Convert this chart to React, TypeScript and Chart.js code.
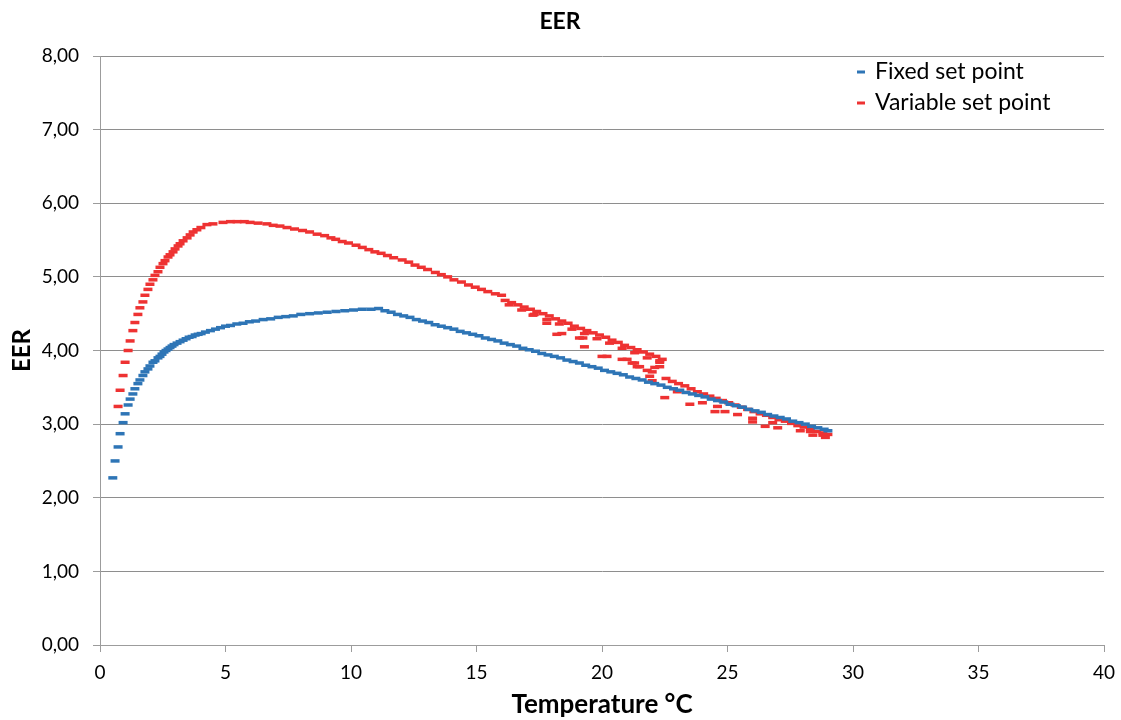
import React, { useEffect, useRef } from "react";
import { Chart, registerables } from "chart.js";
Chart.register(...registerables);

const chartTitle = "EER";
const xAxisTitle = "Temperature °C";
const yAxisTitle = "EER";
const seriesNames = ["Fixed set point", "Variable set point"];
const xTickValues = [0, 5, 10, 15, 20, 25, 30, 35, 40];
const yTickValues = [0, 1, 2, 3, 4, 5, 6, 7, 8];

const fixedX = [
  0.51, 0.6, 0.72, 0.8, 0.92, 1.0, 1.12, 1.2, 1.31, 1.39, 1.51, 1.59, 1.71, 1.79, 1.91, 1.99,
  2.11, 2.19, 2.31, 2.39, 2.47, 2.55, 2.63, 2.71, 2.79, 2.87, 2.95, 3.07, 3.19, 3.31, 3.43, 3.55,
  3.67, 3.79, 3.91, 4.03, 4.2, 4.4, 4.6, 4.8, 5.0, 5.2, 5.45, 5.7, 5.95, 6.2, 6.5, 6.8, 7.1, 7.4,
  7.7, 8.0, 8.35, 8.7, 9.05, 9.4, 9.75, 10.1, 10.45, 10.8, 11.1,
  11.35, 11.6, 11.85, 12.1, 12.35, 12.6, 12.85, 13.1, 13.35, 13.6, 13.85, 14.1, 14.35, 14.6, 14.85,
  15.1, 15.35, 15.6, 15.85, 16.1, 16.35, 16.6, 16.85, 17.1, 17.35, 17.6, 17.85, 18.1, 18.35, 18.6,
  18.85, 19.1, 19.35, 19.6, 19.85, 20.1, 20.35, 20.6, 20.85, 21.1, 21.35, 21.6, 21.85, 22.1, 22.35,
  22.6, 22.85, 23.1, 23.35, 23.6, 23.85, 24.1, 24.35, 24.6, 24.85, 25.1, 25.35, 25.6, 25.85, 26.1,
  26.35, 26.6, 26.85, 27.1, 27.35, 27.6, 27.85, 28.1, 28.35, 28.6, 28.85, 29.0,
];
const fixedY = [
  2.27, 2.5, 2.69, 2.87, 3.02, 3.14, 3.26, 3.34, 3.41, 3.48, 3.55, 3.6, 3.66, 3.71, 3.75, 3.79,
  3.84, 3.86, 3.9, 3.92, 3.95, 3.98, 4.0, 4.02, 4.04, 4.06, 4.08, 4.1, 4.12, 4.14, 4.16, 4.18,
  4.19, 4.21, 4.22, 4.23, 4.25, 4.27, 4.29, 4.31, 4.33, 4.34, 4.36, 4.37, 4.39, 4.4, 4.42, 4.43, 4.45, 4.46,
  4.47, 4.49, 4.5, 4.51, 4.52, 4.53, 4.54, 4.55, 4.56, 4.56, 4.57,
  4.54, 4.52, 4.49, 4.47, 4.45, 4.42, 4.4, 4.38, 4.35, 4.33, 4.31, 4.29, 4.26, 4.24, 4.22,
  4.2, 4.17, 4.15, 4.13, 4.1, 4.08, 4.06, 4.03, 4.01, 3.99, 3.96, 3.94, 3.92, 3.9, 3.87,
  3.85, 3.83, 3.8, 3.78, 3.76, 3.73, 3.71, 3.69, 3.67, 3.64, 3.62, 3.6, 3.57, 3.55, 3.53,
  3.5, 3.48, 3.46, 3.43, 3.41, 3.39, 3.37, 3.34, 3.32, 3.3, 3.27, 3.25, 3.23, 3.2, 3.18,
  3.16, 3.13, 3.11, 3.09, 3.07, 3.04, 3.02, 3.0, 2.97, 2.95, 2.93, 2.91,
];

const varX = [
  0.72, 0.8, 0.92, 1.0, 1.12, 1.2, 1.31, 1.39, 1.51, 1.59, 1.71, 1.79, 1.91, 1.99, 2.11, 2.19,
  2.31, 2.39, 2.51, 2.59, 2.71, 2.79, 2.91, 2.99, 3.11, 3.19, 3.31, 3.47, 3.59, 3.71, 3.86, 4.02,
  4.26, 4.5, 4.9, 5.2, 5.46, 5.75, 5.98, 6.3, 6.65, 6.9, 7.17, 7.45, 7.75, 8.07, 8.35, 8.65, 8.95,
  9.2, 9.39, 9.65, 9.9, 10.2, 10.45, 10.71, 10.95, 11.2, 11.45, 11.7, 12.04, 12.3, 12.55, 12.8,
  13.05, 13.36, 13.6, 13.85, 14.1, 14.4, 14.68, 14.95, 15.2, 15.45, 15.75, 16.0,
  16.14, 16.4, 16.65, 16.9, 17.15, 17.4, 17.65, 17.9, 18.15, 18.4, 18.65, 18.9, 19.15, 19.4,
  19.65, 19.9, 20.15, 20.4, 20.65, 20.9, 21.15, 21.4, 21.65, 21.9, 22.15, 22.4,
  16.3, 16.8, 17.3, 17.8, 18.3, 18.8, 19.3, 19.8, 20.3, 20.8, 21.3, 21.8, 22.3,
  17.25, 17.8, 18.2, 18.4, 19.1, 19.24, 19.3, 20.0, 20.2, 20.8, 21.0, 21.2, 21.3, 21.4, 21.5,
  21.8, 21.9, 22.0, 22.1, 22.0, 22.5,
  22.55, 22.8, 23.05, 23.3, 23.55, 23.8, 24.05, 24.3, 24.55, 24.8, 25.05, 25.3, 25.55, 25.8,
  26.05, 26.3, 26.55, 26.8, 27.05, 27.3, 27.55, 27.8, 28.05, 28.3, 28.55, 28.8, 29.0,
  23.0, 23.5, 24.0, 24.5, 24.6, 24.9, 25.4, 26.0, 26.0, 26.5, 26.8, 27.0, 27.9, 28.3, 28.4,
  28.8, 28.9, 22.3, 22.3,
];
const varY = [
  3.24, 3.46, 3.66, 3.84, 4.0, 4.13, 4.27, 4.38, 4.49, 4.58, 4.66, 4.75, 4.83, 4.9, 4.96, 5.02,
  5.07, 5.13, 5.18, 5.22, 5.27, 5.3, 5.34, 5.38, 5.42, 5.45, 5.49, 5.53, 5.57, 5.61, 5.64, 5.67,
  5.71, 5.72, 5.74, 5.75, 5.75, 5.75, 5.74, 5.73, 5.72, 5.7, 5.69, 5.67, 5.65, 5.63, 5.61, 5.58, 5.56,
  5.53, 5.51, 5.48, 5.46, 5.43, 5.4, 5.37, 5.34, 5.32, 5.29, 5.26, 5.23, 5.2, 5.16, 5.13,
  5.1, 5.06, 5.03, 5.0, 4.96, 4.93, 4.89, 4.86, 4.83, 4.8, 4.77, 4.75,
  4.68, 4.65, 4.62, 4.59, 4.56, 4.53, 4.5, 4.47, 4.43, 4.4, 4.37, 4.33, 4.3, 4.27,
  4.24, 4.21, 4.18, 4.14, 4.11, 4.07, 4.04, 4.01, 3.98, 3.95, 3.92, 3.88,
  4.62, 4.55, 4.49, 4.42, 4.36, 4.29, 4.23, 4.16, 4.1, 4.03, 3.97, 3.9, 3.84,
  4.48, 4.37, 4.22, 4.23, 4.17, 4.17, 4.05, 3.92, 3.92, 3.88, 3.88, 3.83, 3.83, 3.78, 3.78,
  3.73, 3.65, 3.71, 3.77, 3.59, 3.36,
  3.62, 3.58, 3.55, 3.52, 3.48, 3.44, 3.41, 3.38, 3.35, 3.32, 3.29, 3.26, 3.23, 3.2,
  3.17, 3.14, 3.12, 3.09, 3.06, 3.04, 3.01, 2.98, 2.96, 2.93, 2.9, 2.88, 2.86,
  3.44, 3.27, 3.29, 3.17, 3.24, 3.17, 3.13, 3.08, 3.03, 2.97, 3.02, 2.95, 2.91, 2.9, 2.85,
  2.85, 2.82, 3.86, 3.78,
];

const BLUE = "#2E75B6";
const RED = "#EE3232";
const GRID = "#8E8E8E";
const AXIS = "#9C9C9C";
const FONT = "Lato, 'Liberation Sans', sans-serif";

const toPoints = (xs: number[], ys: number[]) => xs.map((x, i) => ({ x, y: ys[i] }));

const overlay = {
  id: "overlay",
  afterDraw(chart: any) {
    const ctx = chart.ctx as CanvasRenderingContext2D;
    ctx.save();
    ctx.fillStyle = "#000";
    ctx.textAlign = "center";
    ctx.textBaseline = "middle";
    ctx.font = `bold 23px ${FONT}`;
    ctx.fillText(chartTitle, 560, 22);
    const colors = [BLUE, RED];
    const rows = [72, 103];
    ctx.font = `23px ${FONT}`;
    ctx.textAlign = "left";
    seriesNames.forEach((name, i) => {
      ctx.fillStyle = colors[i];
      ctx.fillRect(857, rows[i] - 1.5, 8, 3);
      ctx.fillStyle = "#000";
      ctx.fillText(name, 875, rows[i]);
    });
    ctx.restore();
  },
};

export default function App() {
  const ref = useRef<HTMLCanvasElement>(null);
  useEffect(() => {
    document.body.style.margin = "0";
    const canvas = ref.current!;
    const chart = new Chart(canvas, {
      type: "scatter",
      data: {
        datasets: [
          {
            label: seriesNames[0],
            data: toPoints(fixedX, fixedY),
            pointStyle: "line",
            pointRadius: 4.5,
            pointBorderWidth: 3.5,
            borderColor: BLUE,
            backgroundColor: BLUE,
            showLine: false,
          },
          {
            label: seriesNames[1],
            data: toPoints(varX, varY),
            pointStyle: "line",
            pointRadius: 4.5,
            pointBorderWidth: 3.5,
            borderColor: RED,
            backgroundColor: RED,
            showLine: false,
          },
        ],
      },
      options: {
        responsive: false,
        animation: false,
        events: [],
        layout: { padding: { top: 56, right: 17, left: 0, bottom: 0 } },
        plugins: {
          legend: { display: false },
          title: { display: false },
          tooltip: { enabled: false },
        },
        scales: {
          x: {
            type: "linear",
            min: xTickValues[0],
            max: xTickValues[xTickValues.length - 1],
            afterBuildTicks: (s: any) => {
              s.ticks = xTickValues.map((v) => ({ value: v }));
            },
            ticks: {
              color: "#000",
              font: { family: FONT, size: 19 },
              padding: 9,
              maxRotation: 0,
              callback: (v: any) => String(v),
            },
            grid: { drawOnChartArea: false, tickLength: 7, color: AXIS },
            border: { color: AXIS },
            title: {
              display: true,
              text: xAxisTitle,
              color: "#000",
              font: { family: FONT, size: 26, weight: "bold" },
              padding: { top: 0, bottom: 0 },
            },
            afterFit: (s: any) => {
              s.height = 75;
              s.paddingLeft = 0;
              s.paddingRight = 0;
            },
          },
          y: {
            type: "linear",
            min: yTickValues[0],
            max: yTickValues[yTickValues.length - 1],
            afterBuildTicks: (s: any) => {
              s.ticks = yTickValues.map((v) => ({ value: v }));
            },
            ticks: {
              color: "#000",
              font: { family: FONT, size: 19 },
              padding: 14,
              callback: (v: any) => Number(v).toFixed(2).replace(".", ","),
            },
            grid: { color: GRID, tickLength: 7, tickColor: AXIS },
            border: { color: AXIS },
            title: {
              display: true,
              text: yAxisTitle,
              color: "#000",
              font: { family: FONT, size: 24, weight: "bold" },
              padding: { top: 8, bottom: 0 },
            },
            afterFit: (s: any) => {
              s.width = 100;
              s.paddingTop = 0;
              s.paddingBottom = 0;
            },
          },
        },
      },
      plugins: [overlay],
    });
    return () => chart.destroy();
  }, []);
  return (
    <div style={{ width: 1121, height: 720 }}>
      <canvas ref={ref} width={1121} height={720} style={{ display: "block" }} />
    </div>
  );
}
